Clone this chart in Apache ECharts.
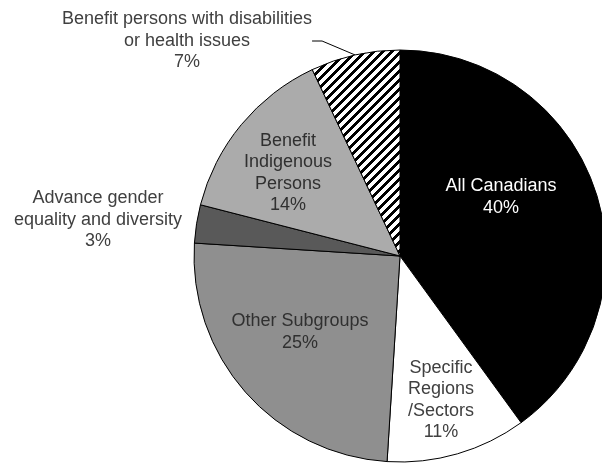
<!DOCTYPE html>
<html>
<head>
<meta charset="utf-8">
<script src="https://cdn.jsdelivr.net/npm/echarts@6/dist/echarts.min.js"></script>
<style>
html,body{margin:0;padding:0;background:#fff;}
#chart{width:602px;height:463px;}
</style>
</head>
<body>
<div id="chart"></div>
<script>
// ---- data ----
var categories = [
  'All Canadians',
  'Specific Regions /Sectors',
  'Other Subgroups',
  'Advance gender equality and diversity',
  'Benefit Indigenous Persons',
  'Benefit persons with disabilities or health issues'
];
var labelLines = [
  'All Canadians',
  'Specific\nRegions\n/Sectors',
  'Other Subgroups',
  'Advance gender\nequality and diversity',
  'Benefit\nIndigenous\nPersons',
  'Benefit persons with disabilities\nor health issues'
];
var values = [40, 11, 25, 3, 14, 7];

// ---- styles / layout ----
function stripePattern() {
  var s = 9;
  var c = document.createElement('canvas');
  c.width = s; c.height = s;
  var ctx = c.getContext('2d');
  var img = ctx.createImageData(s, s);
  for (var y = 0; y < s; y++) {
    for (var x = 0; x < s; x++) {
      var k = ((x + y) % s);
      var v = k < 4 ? 0 : 255;
      var p = (y * s + x) * 4;
      img.data[p] = v; img.data[p + 1] = v; img.data[p + 2] = v; img.data[p + 3] = 255;
    }
  }
  ctx.putImageData(img, 0, 0);
  return { image: c, repeat: 'repeat' };
}
var sliceColors = ['#000000', '#ffffff', '#8f8f8f', '#595959', '#ababab', stripePattern()];
var labelColors = ['#ffffff', '#404040', '#303030', '#404040', '#303030', '#404040'];
var labelPos = [[501, 197], [441, 400], [300, 332], [98, 220], [288, 173], [187, 41]];
var outside = [false, false, false, true, false, true];

var chart = echarts.init(document.getElementById('chart'), null, { renderer: 'canvas' });
var seriesData = values.map(function (v, i) {
  return {
    name: categories[i],
    value: v,
    itemStyle: { color: sliceColors[i] },
    label: {
      position: outside[i] ? 'outside' : 'inside',
      color: labelColors[i]
    },
    labelLine: { show: i === 5 }
  };
});

chart.setOption({
  animation: false,
  backgroundColor: '#ffffff',
  series: [{
    type: 'pie',
    center: [400, 256],
    radius: [0, 206],
    startAngle: 90,
    clockwise: true,
    avoidLabelOverlap: false,
    itemStyle: { borderColor: '#000000', borderWidth: 1 },
    label: {
      show: true,
      fontFamily: 'Liberation Sans, Arial, sans-serif',
      fontSize: 18,
      lineHeight: 21.5,
      align: 'center',
      formatter: function (p) {
        return labelLines[p.dataIndex] + '\n' + p.value + '%';
      }
    },
    labelLine: {
      show: true,
      length: 10,
      length2: 10,
      lineStyle: { color: '#000000', width: 1 }
    },
    labelLayout: function (p) {
      var pos = labelPos[p.dataIndex];
      return { x: pos[0], y: pos[1], align: 'center', verticalAlign: 'middle' };
    },
    data: seriesData
  }]
});
</script>
</body>
</html>
